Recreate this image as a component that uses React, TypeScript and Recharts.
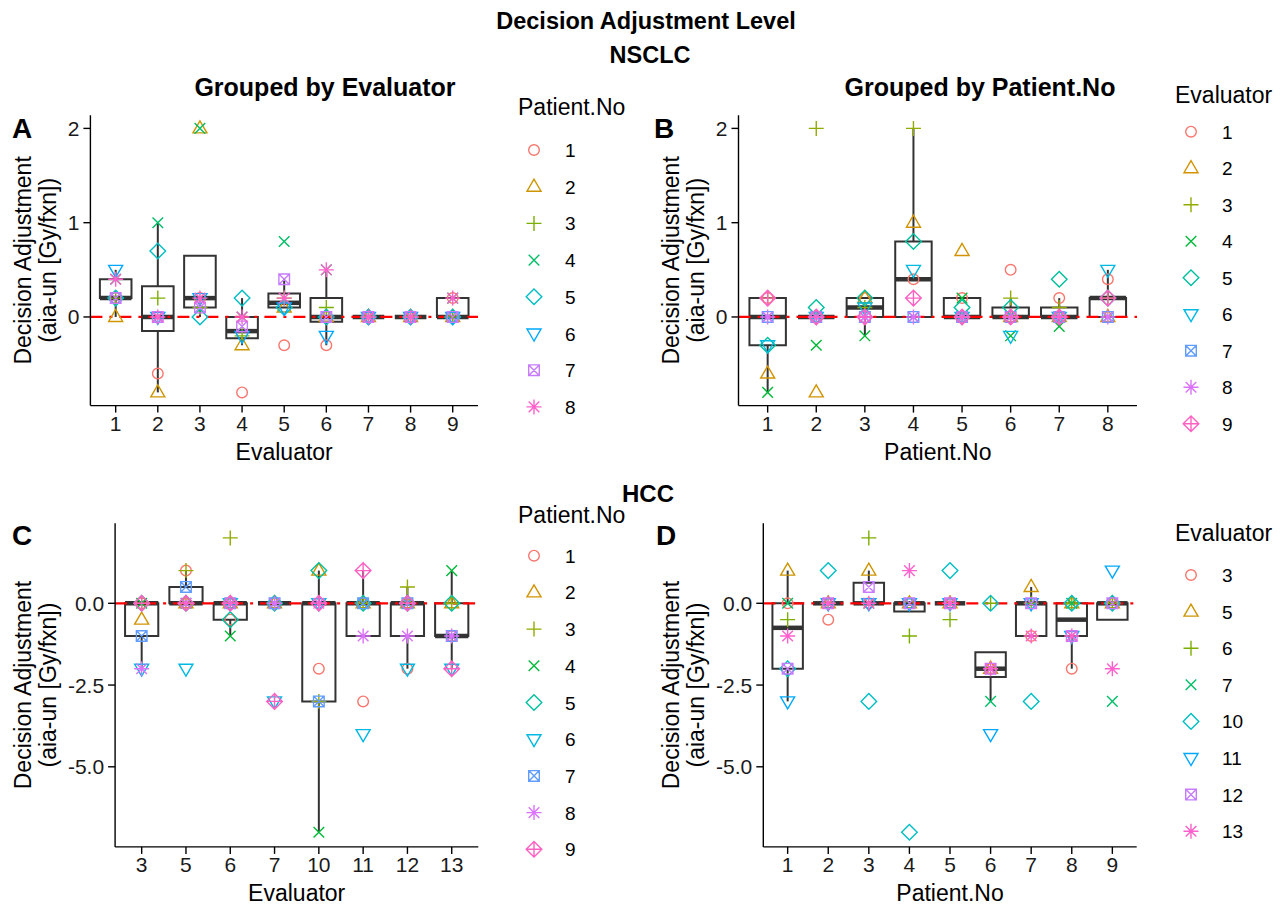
import React from 'react'
import {
  ComposedChart,
  XAxis,
  YAxis,
  Scatter,
  ReferenceArea,
  ReferenceLine,
} from 'recharts'

const FONT = '"Liberation Sans", Arial, Helvetica, sans-serif'
const PAGE_W = 1281
const PAGE_H = 907

// NSCLC: rows = evaluator, columns = patient
const NSCLC_EVALUATORS = ['1', '2', '3', '4', '5', '6', '7', '8', '9']
const NSCLC_PATIENTS = ['1', '2', '3', '4', '5', '6', '7', '8']
const NSCLC_VALUES = [
  [0.2, 0, 0.2, 0.4, 0.2, 0.5, 0.2, 0.4],
  [-0.6, -0.8, 0.2, 1.0, 0.7, 0, 0, 0],
  [0.2, 2, 0.1, 2, 0, 0.2, 0.1, 0.2],
  [-0.8, -0.3, -0.2, 0, 0.2, -0.2, -0.1, 0],
  [-0.3, 0.1, 0.2, 0.8, 0.1, 0.1, 0.4, 0.2],
  [-0.3, 0, 0.1, 0.5, 0, -0.2, 0, 0.5],
  [0, 0, 0, 0, 0, 0, 0, 0],
  [0, 0, 0, 0, 0, 0, 0, 0],
  [0.2, 0, 0, 0.2, 0, 0, 0, 0.2],
]

// HCC: rows = evaluator, columns = patient
const HCC_EVALUATORS = ['3', '5', '6', '7', '10', '11', '12', '13']
const HCC_PATIENTS = ['1', '2', '3', '4', '5', '6', '7', '8', '9']
const HCC_VALUES = [
  [0, -0.5, 0, 0, 0, -2, -1, -2, 0],
  [1, 0, 1, 0, 0, -2, 0.5, 0, 0],
  [-0.5, 0, 2, -1, -0.5, 0, 0, 0, 0],
  [0, 0, 0, 0, 0, -3, 0, 0, -3],
  [-2, 1, -3, -7, 1, 0, -3, 0, 0],
  [-3, 0, 0, 0, 0, -4, 0, -1, 1],
  [-2, 0, 0.5, 0, 0, -2, 0, -1, 0],
  [-1, 0, 0, 1, 0, -2, -1, -1, -2],
]

const NSCLC_Y_DOMAIN: [number, number] = [-0.94, 2.14]
const NSCLC_Y_TICKS = [0, 1, 2]
const HCC_Y_DOMAIN: [number, number] = [-7.45, 2.45]
const HCC_Y_TICKS = [-5, -2.5, 0]

// ggplot hue palettes
const HUE_8 = ['#F8766D', '#CD9600', '#7CAE00', '#00BE67', '#00BFC4', '#00A9FF', '#C77CFF', '#FF61CC']
const HUE_9 = ['#F8766D', '#D39200', '#93AA00', '#00BA38', '#00C19F', '#00B9E3', '#619CFF', '#DB72FB', '#FF61C3']

const BOX_COLOR = '#333333'
const TICK_STYLE = { fill: '#1a1a1a', fontSize: 21, fontFamily: FONT }
const TITLE_STYLE = { fill: '#000', fontSize: 23, fontFamily: FONT }

// ---------------------------------------------------------------------------

function quantile(sorted: number[], p: number) {
  const h = (sorted.length - 1) * p
  const lo = Math.floor(h)
  const hi = Math.min(lo + 1, sorted.length - 1)
  return sorted[lo] + (h - lo) * (sorted[hi] - sorted[lo])
}

function boxStats(values: number[]) {
  const s = [...values].sort((a, b) => a - b)
  const q1 = quantile(s, 0.25)
  const med = quantile(s, 0.5)
  const q3 = quantile(s, 0.75)
  const iqr = q3 - q1
  const inside = s.filter(v => v >= q1 - 1.5 * iqr - 1e-9 && v <= q3 + 1.5 * iqr + 1e-9)
  return {
    q1,
    med,
    q3,
    lo: Math.min(q1, ...inside),
    hi: Math.max(q3, ...inside),
  }
}

function Glyph({ shape, cx, cy, color }: { shape: number; cx: number; cy: number; color: string }) {
  const p = { fill: 'none', stroke: color, strokeWidth: 1.4 }
  const d = 7.8
  const s = 5.3
  switch (shape) {
    case 0:
      return <circle cx={cx} cy={cy} r={5.3} {...p} />
    case 1:
      return <polygon points={`${cx},${cy - 7.5} ${cx - 7},${cy + 4.5} ${cx + 7},${cy + 4.5}`} {...p} />
    case 2:
      return <path d={`M${cx - 7.5},${cy}H${cx + 7.5}M${cx},${cy - 7.5}V${cy + 7.5}`} {...p} />
    case 3:
      return <path d={`M${cx - s},${cy - s}L${cx + s},${cy + s}M${cx - s},${cy + s}L${cx + s},${cy - s}`} {...p} />
    case 4:
      return <polygon points={`${cx},${cy - d} ${cx + d},${cy} ${cx},${cy + d} ${cx - d},${cy}`} {...p} />
    case 5:
      return <polygon points={`${cx},${cy + 7.5} ${cx - 7},${cy - 4.5} ${cx + 7},${cy - 4.5}`} {...p} />
    case 6:
      return (
        <path
          d={`M${cx - s},${cy - s}H${cx + s}V${cy + s}H${cx - s}ZM${cx - s},${cy - s}L${cx + s},${cy + s}M${cx - s},${cy + s}L${cx + s},${cy - s}`}
          {...p}
        />
      )
    case 7:
      return (
        <path
          d={`M${cx - 7.5},${cy}H${cx + 7.5}M${cx},${cy - 7.5}V${cy + 7.5}M${cx - s},${cy - s}L${cx + s},${cy + s}M${cx - s},${cy + s}L${cx + s},${cy - s}`}
          {...p}
        />
      )
    default:
      return (
        <path
          d={`M${cx},${cy - d}L${cx + d},${cy}L${cx},${cy + d}L${cx - d},${cy}ZM${cx - d},${cy}H${cx + d}M${cx},${cy - d}V${cy + d}`}
          {...p}
        />
      )
  }
}

interface Group {
  name: string
  shape: number
  color: string
  points: { x: number; y: number }[]
}

interface PanelProps {
  plot: { left: number; right: number; top: number; bottom: number }
  xLabels: string[]
  xTitle: string
  xTitleY: number
  yDomain: [number, number]
  yTicks: number[]
  yFormat: (v: number) => string
  yTitleX: [number, number]
  boxes: number[][]
  groups: Group[]
}

const Y_WIDTH = 60
const X_HEIGHT = 60

function Panel({ plot, xLabels, xTitle, xTitleY, yDomain, yTicks, yFormat, yTitleX, boxes, groups }: PanelProps) {
  const n = xLabels.length
  const margin = {
    left: plot.left - Y_WIDTH,
    top: plot.top,
    right: PAGE_W - plot.right,
    bottom: PAGE_H - plot.bottom - X_HEIGHT,
  }
  const xTicks = xLabels.map((_l, i) => i + 1)

  const yTitle = (props: any) => {
    const vb = props.viewBox
    const cy = vb.y + vb.height / 2
    return (
      <g>
        <text transform={`translate(${yTitleX[0]},${cy}) rotate(-90)`} textAnchor="middle" style={TITLE_STYLE}>
          Decision Adjustment
        </text>
        <text transform={`translate(${yTitleX[1]},${cy}) rotate(-90)`} textAnchor="middle" style={TITLE_STYLE}>
          (aia-un [Gy/fxn])
        </text>
      </g>
    )
  }

  const xTitleContent = (props: any) => {
    const vb = props.viewBox
    return (
      <text x={vb.x + vb.width / 2} y={xTitleY} textAnchor="middle" style={TITLE_STYLE}>
        {xTitle}
      </text>
    )
  }

  return (
    <ComposedChart width={PAGE_W} height={PAGE_H} margin={margin}>
      <XAxis
        type="number"
        dataKey="x"
        domain={[0.4, n + 0.6]}
        ticks={xTicks}
        interval={0}
        allowDataOverflow
        tickFormatter={(v: number) => xLabels[v - 1]}
        tick={TICK_STYLE}
        tickSize={7}
        tickMargin={3}
        height={X_HEIGHT}
        axisLine={{ stroke: '#000', strokeWidth: 1.4 }}
        tickLine={{ stroke: '#000', strokeWidth: 1.4 }}
        label={{ content: xTitleContent }}
      />
      <YAxis
        type="number"
        dataKey="y"
        domain={yDomain}
        ticks={yTicks}
        interval={0}
        allowDataOverflow
        tickFormatter={yFormat}
        tick={TICK_STYLE}
        tickSize={7}
        tickMargin={4}
        width={Y_WIDTH}
        axisLine={{ stroke: '#000', strokeWidth: 1.4 }}
        tickLine={{ stroke: '#000', strokeWidth: 1.4 }}
        label={{ content: yTitle }}
      />
      {boxes.map((vals, i) => {
        const b = boxStats(vals)
        const x = i + 1
        return (
          <React.Fragment key={`box${i}`}>
            {b.hi > b.q3 && (
              <ReferenceLine
                segment={[{ x, y: b.q3 }, { x, y: b.hi }]}
                stroke={BOX_COLOR}
                strokeWidth={2}
              />
            )}
            {b.lo < b.q1 && (
              <ReferenceLine
                segment={[{ x, y: b.q1 }, { x, y: b.lo }]}
                stroke={BOX_COLOR}
                strokeWidth={2}
              />
            )}
            <ReferenceArea
              x1={x - 0.375}
              x2={x + 0.375}
              y1={b.q1}
              y2={b.q3}
              fill="none"
              fillOpacity={0}
              stroke={BOX_COLOR}
              strokeWidth={2}
              strokeOpacity={1}
            />
            <ReferenceLine
              segment={[{ x: x - 0.375, y: b.med }, { x: x + 0.375, y: b.med }]}
              stroke={BOX_COLOR}
              strokeWidth={4.5}
            />
          </React.Fragment>
        )
      })}
      {groups.map(g => (
        <Scatter
          key={g.name}
          name={g.name}
          data={g.points}
          isAnimationActive={false}
          shape={(props: any) => <Glyph shape={g.shape} cx={props.cx} cy={props.cy} color={g.color} />}
        />
      ))}
      <ReferenceLine y={0} stroke="#FF0000" strokeWidth={2.2} strokeDasharray="12 7 3 7" />
    </ComposedChart>
  )
}

function Legend({ title, x, titleY, firstY, step, labels, colors }: {
  title: string
  x: number
  titleY: number
  firstY: number
  step: number
  labels: string[]
  colors: string[]
}) {
  return (
    <g>
      <text x={x} y={titleY} style={TITLE_STYLE}>{title}</text>
      {labels.map((l, i) => {
        const cy = firstY + i * step
        return (
          <g key={l}>
            <Glyph shape={i} cx={x + 16} cy={cy} color={colors[i]} />
            <text x={x + 47} y={cy + 7} style={{ fill: '#000', fontSize: 19, fontFamily: FONT }}>{l}</text>
          </g>
        )
      })}
    </g>
  )
}

const fmt0 = (v: number) => String(v)
const fmt1 = (v: number) => v.toFixed(1)

export default function App() {
  const nsclcByEvaluator = NSCLC_VALUES
  const nsclcByPatient = NSCLC_PATIENTS.map((_p, j) => NSCLC_VALUES.map(row => row[j]))
  const hccByEvaluator = HCC_VALUES
  const hccByPatient = HCC_PATIENTS.map((_p, j) => HCC_VALUES.map(row => row[j]))

  const groupsA: Group[] = NSCLC_PATIENTS.map((p, j) => ({
    name: `p${p}`,
    shape: j,
    color: HUE_8[j],
    points: NSCLC_VALUES.map((row, i) => ({ x: i + 1, y: row[j] })),
  }))
  const groupsB: Group[] = NSCLC_EVALUATORS.map((e, i) => ({
    name: `e${e}`,
    shape: i,
    color: HUE_9[i],
    points: NSCLC_VALUES[i].map((v, j) => ({ x: j + 1, y: v })),
  }))
  const groupsC: Group[] = HCC_PATIENTS.map((p, j) => ({
    name: `p${p}`,
    shape: j,
    color: HUE_9[j],
    points: HCC_VALUES.map((row, i) => ({ x: i + 1, y: row[j] })),
  }))
  const groupsD: Group[] = HCC_EVALUATORS.map((e, i) => ({
    name: `e${e}`,
    shape: i,
    color: HUE_8[i],
    points: HCC_VALUES[i].map((v, j) => ({ x: j + 1, y: v })),
  }))

  const layer = { position: 'absolute' as const, left: 0, top: 0 }
  const bold = (size: number) => ({ fill: '#000', fontSize: size, fontWeight: 700, fontFamily: FONT })

  return (
    <div style={{ position: 'absolute', left: 0, top: 0, width: PAGE_W, height: PAGE_H, background: '#fff', fontFamily: FONT }}>
      <div style={layer}>
        <Panel
          plot={{ left: 90.4, right: 478, top: 115.2, bottom: 405.6 }}
          xLabels={NSCLC_EVALUATORS}
          xTitle="Evaluator"
          xTitleY={460}
          yDomain={NSCLC_Y_DOMAIN}
          yTicks={NSCLC_Y_TICKS}
          yFormat={fmt0}
          yTitleX={[31, 56]}
          boxes={nsclcByEvaluator}
          groups={groupsA}
        />
      </div>
      <div style={layer}>
        <Panel
          plot={{ left: 738.5, right: 1137, top: 115.2, bottom: 405.6 }}
          xLabels={NSCLC_PATIENTS}
          xTitle="Patient.No"
          xTitleY={460}
          yDomain={NSCLC_Y_DOMAIN}
          yTicks={NSCLC_Y_TICKS}
          yFormat={fmt0}
          yTitleX={[679, 704]}
          boxes={nsclcByPatient}
          groups={groupsB}
        />
      </div>
      <div style={layer}>
        <Panel
          plot={{ left: 115.1, right: 478.3, top: 523.2, bottom: 846.9 }}
          xLabels={HCC_EVALUATORS}
          xTitle="Evaluator"
          xTitleY={901}
          yDomain={HCC_Y_DOMAIN}
          yTicks={HCC_Y_TICKS}
          yFormat={fmt1}
          yTitleX={[31, 56]}
          boxes={hccByEvaluator}
          groups={groupsC}
        />
      </div>
      <div style={layer}>
        <Panel
          plot={{ left: 763.3, right: 1136.7, top: 523.2, bottom: 846.9 }}
          xLabels={HCC_PATIENTS}
          xTitle="Patient.No"
          xTitleY={901}
          yDomain={HCC_Y_DOMAIN}
          yTicks={HCC_Y_TICKS}
          yFormat={fmt1}
          yTitleX={[679, 704]}
          boxes={hccByPatient}
          groups={groupsD}
        />
      </div>
      <svg style={layer} width={PAGE_W} height={PAGE_H}>
        <text x={646} y={29} textAnchor="middle" style={bold(23.5)}>Decision Adjustment Level</text>
        <text x={650} y={63} textAnchor="middle" style={bold(23.5)}>NSCLC</text>
        <text x={325} y={96} textAnchor="middle" style={bold(25)}>Grouped by Evaluator</text>
        <text x={980} y={96} textAnchor="middle" style={bold(25)}>Grouped by Patient.No</text>
        <text x={648} y={502} textAnchor="middle" style={bold(24)}>HCC</text>
        <text x={12} y={138} style={bold(28)}>A</text>
        <text x={654} y={138} style={bold(28)}>B</text>
        <text x={12} y={545} style={bold(28)}>C</text>
        <text x={656} y={545} style={bold(28)}>D</text>
        <Legend title="Patient.No" x={518} titleY={115} firstY={150} step={36.7} labels={NSCLC_PATIENTS} colors={HUE_8} />
        <Legend title="Evaluator" x={1175} titleY={103} firstY={131.7} step={36.5} labels={NSCLC_EVALUATORS} colors={HUE_9} />
        <Legend title="Patient.No" x={518} titleY={523} firstY={555.7} step={36.7} labels={HCC_PATIENTS} colors={HUE_9} />
        <Legend title="Evaluator" x={1175} titleY={541} firstY={575} step={36.6} labels={HCC_EVALUATORS} colors={HUE_8} />
      </svg>
    </div>
  )
}
